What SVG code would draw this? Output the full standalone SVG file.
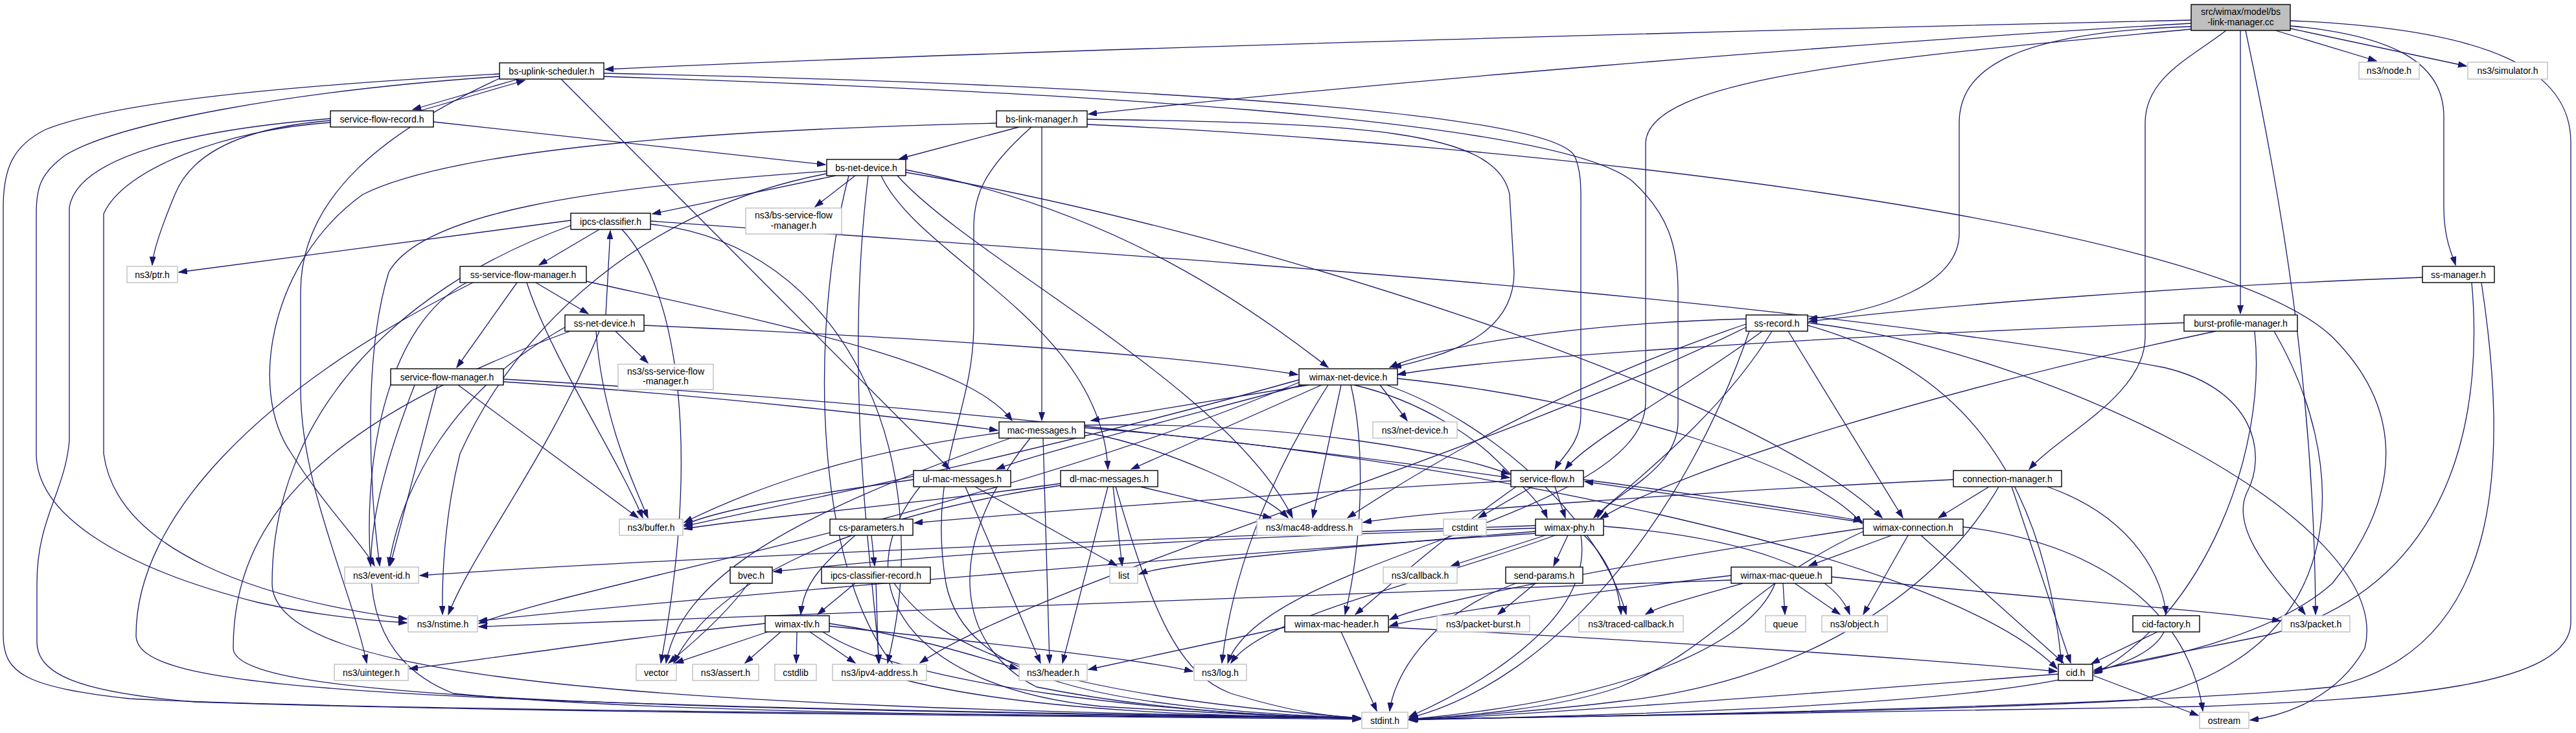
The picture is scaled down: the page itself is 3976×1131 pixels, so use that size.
<svg xmlns="http://www.w3.org/2000/svg" width="3976" height="1131" viewBox="0 0 3976 1131">
<style>
.n rect{fill:#fff;stroke:#000;stroke-width:1.4}
.x rect{fill:#fff;stroke:#bfbfbf;stroke-width:1.4}
.r rect{fill:#bfbfbf;stroke:#000;stroke-width:1.4}
text{font-family:"Liberation Sans",Arial,Helvetica,sans-serif;font-size:14px;text-anchor:middle;fill:#000}
#edges path{fill:none;stroke:#191970;stroke-width:1.3;marker-end:url(#a)}
</style>
<defs>
<marker id="a" markerUnits="userSpaceOnUse" markerWidth="14" markerHeight="10" refX="13" refY="4.5" orient="auto">
<path d="M0,0 L13,4.5 L0,9 z" fill="#191970" stroke="#191970" stroke-width="1"/>
</marker>
</defs>
<rect width="3976" height="1131" fill="#fff"/>
<g id="edges">
<path d="M3382,31 C2900,42 1600,75 934,107"/>
<path d="M3382,36 C2800,70 2100,130 1680,176"/>
<path d="M3382,41 C3100,50 3024,110 3024,190 L3024,360 C3024,440 2900,480 2792,492"/>
<path d="M3382,45 C2900,90 2545,120 2540,220 L2540,620 C2540,800 1950,860 1895,1023"/>
<path d="M3436,47 C3380,90 3311,120 3311,190 L3311,520 C3311,610 3180,670 3132,724"/>
<path d="M3458,47 L3458,484"/>
<path d="M3466,47 C3520,300 3572,600 3574,948"/>
<path d="M3512,47 L3668,94"/>
<path d="M3535,44 L3807,102"/>
<path d="M3535,40 C3700,55 3772,100 3772,180 L3772,320 C3772,370 3786,395 3790,409"/>
<path d="M3535,32 C3850,45 3968,110 3968,220 L3968,960 C3968,1060 3700,1078 3400,1090 L2176,1110"/>
<path d="M800,122 L637,169"/>
<path d="M648,171 L810,124"/>
<path d="M866,122 L1466,724"/>
<path d="M932,113 C1500,125 2380,160 2430,240 C2442,265 2440,300 2440,330 L2440,640 C2440,685 2410,705 2400,724"/>
<path d="M932,118 C1600,140 2400,180 2520,280 C2575,330 2590,380 2590,450 L2590,650 C2590,730 2480,765 2466,799"/>
<path d="M771,114 C400,135 170,160 70,200 C20,225 5,260 5,320 L5,980 C5,1040 40,1060 200,1078 C500,1095 1500,1102 2100,1108"/>
<path d="M771,118 C450,140 180,190 100,240 C62,268 56,290 56,330 L56,700 C56,800 200,880 400,930 C500,952 580,958 628,961"/>
<path d="M771,121 C600,200 464,300 464,450 L464,600 C464,750 540,900 566,1023"/>
<path d="M510,186 C400,195 300,225 270,300 C245,360 236,390 235,409"/>
<path d="M669,188 L1274,254"/>
<path d="M510,183 C300,200 120,240 107,320 L107,680 C100,760 57,800 57,900 L57,990 C57,1040 120,1068 300,1083 C800,1100 1600,1104 2100,1110"/>
<path d="M510,189 C350,200 190,260 160,330 L160,700 C180,850 400,925 628,955"/>
<path d="M1573,196 L1388,245"/>
<path d="M1608,196 L1608,649"/>
<path d="M1678,184 C2100,190 2310,200 2330,300 L2337,420 C2337,520 2230,548 2150,567"/>
<path d="M1538,190 C1100,200 700,230 560,300 C420,400 380,600 450,700 C500,780 560,840 578,873"/>
<path d="M1592,196 C1520,260 1503,300 1503,350 L1503,500 C1503,640 1430,720 1460,900 C1490,1050 1700,1092 2100,1108"/>
<path d="M1678,192 C2300,220 3400,330 3600,520 C3700,620 3720,750 3600,900 C3500,990 3300,1022 3232,1034"/>
<path d="M1290,271 L1007,330"/>
<path d="M1320,271 L1258,319"/>
<path d="M1398,262 C1700,320 1900,450 2050,567"/>
<path d="M1360,271 C1420,400 1700,500 1710,724"/>
<path d="M1385,271 C1500,400 1900,600 1995,799"/>
<path d="M1276,264 C900,290 650,330 600,420 C560,550 570,750 586,873"/>
<path d="M1276,268 C1000,320 800,500 710,700 C685,800 682,900 683,948"/>
<path d="M1398,266 C1900,350 2700,600 2905,799"/>
<path d="M1340,271 C1300,600 1350,900 1357,1023"/>
<path d="M1310,271 C1250,500 1250,900 1400,1050 C1600,1100 1900,1105 2100,1108"/>
<path d="M881,340 L276,420"/>
<path d="M925,354 L832,409"/>
<path d="M960,354 C1050,450 1080,700 1020,1023"/>
<path d="M1004,346 C1300,375 1450,700 1370,1023"/>
<path d="M1004,341 C1800,400 2700,450 3340,567 C3480,600 3500,700 3468,760 C3440,820 3520,900 3558,948"/>
<path d="M881,348 C600,450 420,650 420,900 C420,1050 1000,1090 2100,1108"/>
<path d="M827,436 L908,484"/>
<path d="M798,436 L705,567"/>
<path d="M813,436 C850,550 950,700 992,799"/>
<path d="M905,434 C1200,500 1500,560 1562,649"/>
<path d="M720,436 C600,500 560,700 572,873"/>
<path d="M730,436 C400,600 210,800 210,980 C210,1060 500,1085 2100,1108"/>
<path d="M935,486 L942,356"/>
<path d="M950,511 L1000,560"/>
<path d="M994,502 C1400,520 1800,545 2003,578"/>
<path d="M920,511 C930,650 980,750 1000,799"/>
<path d="M925,511 C850,700 730,850 692,948"/>
<path d="M872,505 C700,600 620,750 600,873"/>
<path d="M880,511 C500,650 360,800 360,1000 C360,1070 800,1092 2100,1108"/>
<path d="M777,589 C1100,610 1400,645 1540,664"/>
<path d="M707,594 L985,799"/>
<path d="M675,594 L602,873"/>
<path d="M640,594 C560,800 520,1000 700,1070 C1000,1100 1600,1105 2100,1108"/>
<path d="M777,585 C1400,620 2000,690 2330,737"/>
<path d="M2130,594 L2172,649"/>
<path d="M2020,594 L1684,649"/>
<path d="M2010,594 C1800,650 1600,700 1538,724"/>
<path d="M2040,594 L1746,724"/>
<path d="M2070,594 L2026,799"/>
<path d="M2090,594 C2200,620 2280,680 2310,710 C2350,750 2380,780 2388,799"/>
<path d="M2157,584 C2500,620 2800,720 2874,808"/>
<path d="M2085,594 C2110,700 2100,850 2076,948"/>
<path d="M2140,594 C2300,650 2470,800 2510,948"/>
<path d="M2005,586 C1600,700 1200,780 1056,812"/>
<path d="M2005,590 C1500,800 900,900 739,962"/>
<path d="M2050,594 C1950,750 1900,900 1886,1023"/>
<path d="M1542,668 C1300,700 1150,760 1056,806"/>
<path d="M1610,676 L1620,1023"/>
<path d="M1674,667 C1800,690 1950,760 1988,799"/>
<path d="M1560,676 C1200,800 1050,900 1028,1023"/>
<path d="M1674,660 C2200,700 3000,850 3175,1032"/>
<path d="M1590,676 C1450,850 1480,1000 1600,1060 C1800,1100 2000,1106 2100,1108"/>
<path d="M1674,656 C2000,650 2250,700 2330,732"/>
<path d="M1410,740 C1200,770 1100,790 1056,810"/>
<path d="M1490,751 L1606,1023"/>
<path d="M1505,751 L1724,873"/>
<path d="M1420,751 C1300,900 1400,1060 1700,1090 C1900,1102 2000,1106 2100,1108"/>
<path d="M1637,746 C1400,780 1150,800 1056,816"/>
<path d="M1710,751 L1640,1023"/>
<path d="M1718,751 L1732,873"/>
<path d="M1760,751 L1962,799"/>
<path d="M1637,749 C1300,800 1100,900 1040,1023"/>
<path d="M1722,751 C1780,950 1820,1040 1900,1070 C2000,1100 2050,1105 2100,1108"/>
<path d="M2365,751 L2282,799"/>
<path d="M2400,751 L2416,799"/>
<path d="M2332,742 C2000,760 1600,790 1411,807"/>
<path d="M2444,740 C2600,760 2800,790 2874,804"/>
<path d="M2340,751 C2200,850 2150,900 2092,948"/>
<path d="M2876,806 C2700,780 2500,750 2446,743"/>
<path d="M2920,826 L2792,873"/>
<path d="M2945,826 L2876,948"/>
<path d="M2965,826 L3185,1023"/>
<path d="M3030,813 C3250,840 3380,950 3400,1097"/>
<path d="M2876,815 C2500,870 2200,930 2145,956"/>
<path d="M2876,820 C2700,900 2650,1000 2500,1060 C2400,1095 2250,1105 2175,1110"/>
<path d="M3070,751 L2992,799"/>
<path d="M3105,751 L3196,1023"/>
<path d="M3160,751 C3300,800 3340,900 3343,948"/>
<path d="M3015,740 C2600,760 2200,790 2104,806"/>
<path d="M3085,751 C3000,900 2800,1050 2500,1082 C2400,1095 2250,1106 2175,1110"/>
<path d="M2752,900 L2755,948"/>
<path d="M2770,900 L2840,948"/>
<path d="M2672,888 C2400,920 2200,950 2145,966"/>
<path d="M2690,900 C2620,920 2560,935 2540,948"/>
<path d="M2827,890 C3100,920 3400,940 3520,958"/>
<path d="M2672,895 C2000,920 1000,955 739,967"/>
<path d="M2740,900 C2700,1000 2500,1080 2175,1110"/>
<path d="M2370,815 C1800,830 1400,860 1194,882"/>
<path d="M2370,820 C2000,850 1800,870 1758,886"/>
<path d="M2385,826 L2240,873"/>
<path d="M2420,826 L2398,873"/>
<path d="M2445,826 C2490,870 2500,920 2502,948"/>
<path d="M2370,811 C1500,840 900,870 648,888"/>
<path d="M2370,823 C1800,860 1000,930 739,958"/>
<path d="M2475,812 C2700,830 2830,880 2855,948"/>
<path d="M2400,826 C2200,900 1950,950 1900,1023"/>
<path d="M2440,826 C2460,950 2300,1050 2175,1106"/>
<path d="M1155,900 C1120,950 1060,1000 1032,1023"/>
<path d="M1345,826 L1350,873"/>
<path d="M1320,826 C1270,870 1240,900 1236,948"/>
<path d="M1320,900 L1262,948"/>
<path d="M1352,900 L1356,1023"/>
<path d="M1380,900 C1450,1000 1600,1070 2100,1108"/>
<path d="M1185,975 L1042,1023"/>
<path d="M1205,975 L1150,1023"/>
<path d="M1230,975 L1229,1023"/>
<path d="M1250,975 L1320,1023"/>
<path d="M1181,962 C1000,980 800,1010 632,1032"/>
<path d="M1280,962 C1400,980 1500,1010 1571,1032"/>
<path d="M1280,966 C1500,990 1750,1015 1841,1036"/>
<path d="M1270,975 C1400,1060 1800,1100 2100,1109"/>
<path d="M1983,968 L1680,1033"/>
<path d="M2143,968 C2600,990 3000,1020 3175,1036"/>
<path d="M2070,975 L2125,1097"/>
<path d="M2370,900 L2312,948"/>
<path d="M2340,900 C2200,950 2150,1050 2145,1097"/>
<path d="M3230,1042 L3393,1104"/>
<path d="M3177,1040 C2800,1070 2400,1100 2175,1111"/>
<path d="M3330,975 L3228,1024"/>
<path d="M3340,975 C3300,1060 3000,1092 2175,1111"/>
<path d="M2695,492 C2400,500 2200,540 2145,567"/>
<path d="M2720,511 C2600,600 2450,680 2416,724"/>
<path d="M2735,511 C2650,650 2500,760 2460,799"/>
<path d="M2760,511 L2937,799"/>
<path d="M2695,500 C2400,600 2200,720 2080,799"/>
<path d="M2695,505 C2300,700 1600,900 1420,1023"/>
<path d="M2790,502 C3000,560 3150,700 3182,1023"/>
<path d="M2700,511 C2600,800 2400,1050 2175,1108"/>
<path d="M2790,498 C3150,540 3700,800 3650,1000 C3600,1090 3500,1108 3473,1111"/>
<path d="M3739,428 C3400,440 3000,470 2792,496"/>
<path d="M3815,436 C3830,600 3810,900 3500,980 C3350,1010 3260,1026 3232,1037"/>
<path d="M3830,436 C3870,700 3870,1000 3600,1060 C3300,1090 2500,1105 2175,1110"/>
<path d="M3371,498 C2800,520 2300,552 2157,578"/>
<path d="M3420,511 C3000,600 2600,720 2470,800"/>
<path d="M3480,511 C3500,700 3400,950 3232,1040"/>
<path d="M3510,511 C3620,700 3650,1000 3300,1080 C3000,1098 2400,1106 2175,1110"/>
</g>
<g id="root" class="r"><rect x="3382" y="7" width="153" height="40"/><text x="3458.5" y="23">src/wimax/model/bs</text><text x="3458.5" y="39">-link-manager.cc</text></g>
<g id="bs-uplink-scheduler" class="n"><rect x="771" y="97" width="161" height="25"/><text x="851.5" y="114.5">bs-uplink-scheduler.h</text></g>
<g id="service-flow-record" class="n"><rect x="510" y="171" width="159" height="25"/><text x="589.5" y="188.5">service-flow-record.h</text></g>
<g id="bs-link-manager" class="n"><rect x="1538" y="171" width="140" height="25"/><text x="1608" y="188.5">bs-link-manager.h</text></g>
<g id="bs-net-device" class="n"><rect x="1276" y="246" width="122" height="25"/><text x="1337" y="263.5">bs-net-device.h</text></g>
<g id="ipcs-classifier" class="n"><rect x="881" y="329" width="123" height="25"/><text x="942.5" y="346.5">ipcs-classifier.h</text></g>
<g id="ns3-bs-service-flow-manager" class="x"><rect x="1151" y="321" width="148" height="40"/><text x="1225" y="337">ns3/bs-service-flow</text><text x="1225" y="353">-manager.h</text></g>
<g id="ns3-ptr" class="x"><rect x="196" y="411" width="78" height="25"/><text x="235" y="428.5">ns3/ptr.h</text></g>
<g id="ss-service-flow-manager" class="n"><rect x="710" y="411" width="195" height="25"/><text x="807.5" y="428.5">ss-service-flow-manager.h</text></g>
<g id="ss-net-device" class="n"><rect x="872" y="486" width="122" height="25"/><text x="933" y="503.5">ss-net-device.h</text></g>
<g id="ns3-ss-service-flow-manager" class="x"><rect x="954" y="562" width="147" height="39"/><text x="1027.5" y="578">ns3/ss-service-flow</text><text x="1027.5" y="593">-manager.h</text></g>
<g id="service-flow-manager" class="n"><rect x="603" y="569" width="174" height="25"/><text x="690" y="586.5">service-flow-manager.h</text></g>
<g id="wimax-net-device" class="n"><rect x="2005" y="569" width="152" height="25"/><text x="2081" y="586.5">wimax-net-device.h</text></g>
<g id="mac-messages" class="n"><rect x="1542" y="651" width="132" height="25"/><text x="1608" y="668.5">mac-messages.h</text></g>
<g id="ns3-net-device" class="x"><rect x="2119" y="651" width="130" height="25"/><text x="2184" y="668.5">ns3/net-device.h</text></g>
<g id="ul-mac-messages" class="n"><rect x="1410" y="726" width="150" height="25"/><text x="1485" y="743.5">ul-mac-messages.h</text></g>
<g id="dl-mac-messages" class="n"><rect x="1637" y="726" width="150" height="25"/><text x="1712" y="743.5">dl-mac-messages.h</text></g>
<g id="service-flow" class="n"><rect x="2332" y="726" width="112" height="25"/><text x="2388" y="743.5">service-flow.h</text></g>
<g id="connection-manager" class="n"><rect x="3015" y="726" width="167" height="25"/><text x="3098.5" y="743.5">connection-manager.h</text></g>
<g id="ns3-buffer" class="x"><rect x="956" y="801" width="98" height="25"/><text x="1005" y="818.5">ns3/buffer.h</text></g>
<g id="cs-parameters" class="n"><rect x="1281" y="801" width="128" height="25"/><text x="1345" y="818.5">cs-parameters.h</text></g>
<g id="ns3-mac48-address" class="x"><rect x="1940" y="801" width="162" height="25"/><text x="2021" y="818.5">ns3/mac48-address.h</text></g>
<g id="cstdint" class="x"><rect x="2228" y="801" width="66" height="25"/><text x="2261" y="818.5">cstdint</text></g>
<g id="wimax-phy" class="n"><rect x="2370" y="801" width="105" height="25"/><text x="2422.5" y="818.5">wimax-phy.h</text></g>
<g id="wimax-connection" class="n"><rect x="2876" y="801" width="154" height="25"/><text x="2953" y="818.5">wimax-connection.h</text></g>
<g id="ns3-event-id" class="x"><rect x="532" y="875" width="114" height="25"/><text x="589" y="892.5">ns3/event-id.h</text></g>
<g id="bvec" class="n"><rect x="1127" y="875" width="65" height="25"/><text x="1159.5" y="892.5">bvec.h</text></g>
<g id="ipcs-classifier-record" class="n"><rect x="1268" y="875" width="168" height="25"/><text x="1352" y="892.5">ipcs-classifier-record.h</text></g>
<g id="list" class="x"><rect x="1713" y="875" width="43" height="25"/><text x="1734.5" y="892.5">list</text></g>
<g id="ns3-callback" class="x"><rect x="2135" y="875" width="114" height="25"/><text x="2192" y="892.5">ns3/callback.h</text></g>
<g id="send-params" class="n"><rect x="2324" y="875" width="119" height="25"/><text x="2383.5" y="892.5">send-params.h</text></g>
<g id="wimax-mac-queue" class="n"><rect x="2672" y="875" width="155" height="25"/><text x="2749.5" y="892.5">wimax-mac-queue.h</text></g>
<g id="ns3-nstime" class="x"><rect x="630" y="950" width="107" height="25"/><text x="683.5" y="967.5">ns3/nstime.h</text></g>
<g id="wimax-tlv" class="n"><rect x="1181" y="950" width="99" height="25"/><text x="1230.5" y="967.5">wimax-tlv.h</text></g>
<g id="wimax-mac-header" class="n"><rect x="1983" y="950" width="160" height="25"/><text x="2063" y="967.5">wimax-mac-header.h</text></g>
<g id="ns3-packet-burst" class="x"><rect x="2218" y="950" width="143" height="25"/><text x="2289.5" y="967.5">ns3/packet-burst.h</text></g>
<g id="ns3-traced-callback" class="x"><rect x="2437" y="950" width="161" height="25"/><text x="2517.5" y="967.5">ns3/traced-callback.h</text></g>
<g id="queue" class="x"><rect x="2725" y="950" width="62" height="25"/><text x="2756" y="967.5">queue</text></g>
<g id="ns3-object" class="x"><rect x="2812" y="950" width="101" height="25"/><text x="2862.5" y="967.5">ns3/object.h</text></g>
<g id="cid-factory" class="n"><rect x="3292" y="950" width="103" height="25"/><text x="3343.5" y="967.5">cid-factory.h</text></g>
<g id="ns3-packet" class="x"><rect x="3522" y="950" width="105" height="25"/><text x="3574.5" y="967.5">ns3/packet.h</text></g>
<g id="ns3-uinteger" class="x"><rect x="516" y="1025" width="114" height="25"/><text x="573" y="1042.5">ns3/uinteger.h</text></g>
<g id="vector" class="x"><rect x="982" y="1025" width="62" height="25"/><text x="1013" y="1042.5">vector</text></g>
<g id="ns3-assert" class="x"><rect x="1069" y="1025" width="102" height="25"/><text x="1120" y="1042.5">ns3/assert.h</text></g>
<g id="cstdlib" class="x"><rect x="1196" y="1025" width="64" height="25"/><text x="1228" y="1042.5">cstdlib</text></g>
<g id="ns3-ipv4-address" class="x"><rect x="1285" y="1025" width="145" height="25"/><text x="1357.5" y="1042.5">ns3/ipv4-address.h</text></g>
<g id="ns3-header" class="x"><rect x="1573" y="1025" width="105" height="25"/><text x="1625.5" y="1042.5">ns3/header.h</text></g>
<g id="ns3-log" class="x"><rect x="1843" y="1025" width="81" height="25"/><text x="1883.5" y="1042.5">ns3/log.h</text></g>
<g id="cid" class="n"><rect x="3177" y="1025" width="53" height="25"/><text x="3203.5" y="1042.5">cid.h</text></g>
<g id="stdint" class="x"><rect x="2102" y="1099" width="71" height="25"/><text x="2137.5" y="1116.5">stdint.h</text></g>
<g id="ostream" class="x"><rect x="3395" y="1099" width="76" height="25"/><text x="3433" y="1116.5">ostream</text></g>
<g id="ss-record" class="n"><rect x="2695" y="486" width="95" height="25"/><text x="2742.5" y="503.5">ss-record.h</text></g>
<g id="ss-manager" class="n"><rect x="3739" y="411" width="111" height="25"/><text x="3794.5" y="428.5">ss-manager.h</text></g>
<g id="burst-profile-manager" class="n"><rect x="3371" y="486" width="175" height="25"/><text x="3458.5" y="503.5">burst-profile-manager.h</text></g>
<g id="ns3-node" class="x"><rect x="3641" y="96" width="93" height="26"/><text x="3687.5" y="114">ns3/node.h</text></g>
<g id="ns3-simulator" class="x"><rect x="3809" y="96" width="123" height="26"/><text x="3870.5" y="114">ns3/simulator.h</text></g>
</svg>
